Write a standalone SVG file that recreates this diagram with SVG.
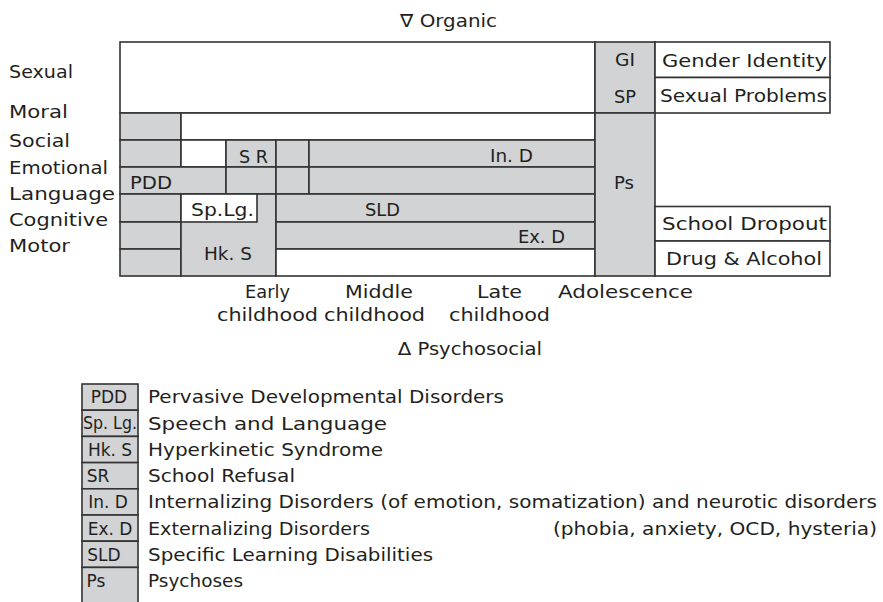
<svg xmlns="http://www.w3.org/2000/svg" width="883" height="602" viewBox="0 0 883 602">
  <style>
    text { font-family: "DejaVu Sans", "Liberation Sans", sans-serif; font-size: 18px; fill: #231f20; }
    .c { text-anchor: middle; }
    .k { font-size: 17px; }
    .g { fill: #d1d3d4; stroke: #333; stroke-width: 1.6; }
    .w { fill: #ffffff; stroke: #333; stroke-width: 1.6; }
  </style>
  <rect width="883" height="602" fill="#ffffff"/>

  <!-- axis captions -->
  <g id="captions">
    <text x="400" y="27" textLength="97" lengthAdjust="spacingAndGlyphs">∇ Organic</text>
    <text x="398" y="355" textLength="144" lengthAdjust="spacingAndGlyphs">∆ Psychosocial</text>
  </g>

  <!-- developmental domains (rows) -->
  <g id="domains">
    <text x="9" y="78" textLength="64" lengthAdjust="spacingAndGlyphs">Sexual</text>
    <text x="9" y="118" textLength="59" lengthAdjust="spacingAndGlyphs">Moral</text>
    <text x="9" y="147" textLength="61" lengthAdjust="spacingAndGlyphs">Social</text>
    <text x="9" y="174" textLength="99" lengthAdjust="spacingAndGlyphs">Emotional</text>
    <text x="9" y="200" textLength="106" lengthAdjust="spacingAndGlyphs">Language</text>
    <text x="9" y="226" textLength="99" lengthAdjust="spacingAndGlyphs">Cognitive</text>
    <text x="9" y="252" textLength="61" lengthAdjust="spacingAndGlyphs">Motor</text>
  </g>

  <!-- life stages (columns) -->
  <g id="stages">
    <text x="245" y="298" textLength="45" lengthAdjust="spacingAndGlyphs">Early</text>
    <text x="217" y="321" textLength="101" lengthAdjust="spacingAndGlyphs">childhood</text>
    <text x="345" y="298" textLength="68" lengthAdjust="spacingAndGlyphs">Middle</text>
    <text x="324" y="321" textLength="101" lengthAdjust="spacingAndGlyphs">childhood</text>
    <text x="477" y="298" textLength="45" lengthAdjust="spacingAndGlyphs">Late</text>
    <text x="449" y="321" textLength="101" lengthAdjust="spacingAndGlyphs">childhood</text>
    <text x="558" y="298" textLength="135" lengthAdjust="spacingAndGlyphs">Adolescence</text>
  </g>

  <!-- chart grid -->
  <g id="chart">
    <!-- sexual band -->
    <rect class="w" x="120" y="42" width="475" height="71"/>
    <!-- moral row -->
    <rect class="g" x="120" y="113" width="61" height="27"/>
    <rect class="w" x="181" y="113" width="414" height="27"/>
    <!-- social row -->
    <rect class="g" x="120" y="140" width="61" height="27"/>
    <rect class="w" x="181" y="140" width="45" height="27"/>
    <rect class="g" x="226" y="140" width="50" height="27"/>
    <rect class="g" x="276" y="140" width="33" height="27"/>
    <rect class="g" x="309" y="140" width="286" height="27"/>
    <!-- emotional row -->
    <rect class="g" x="120" y="167" width="106" height="27"/>
    <rect class="g" x="226" y="167" width="50" height="27"/>
    <rect class="g" x="276" y="167" width="33" height="27"/>
    <rect class="g" x="309" y="167" width="286" height="27"/>
    <!-- language / cognitive / motor -->
    <rect class="g" x="120" y="194" width="61" height="28"/>
    <rect class="g" x="120" y="222" width="61" height="27"/>
    <rect class="g" x="120" y="249" width="61" height="27"/>
    <rect class="g" x="181" y="194" width="95" height="82"/>
    <rect class="w" x="181" y="194" width="76" height="28"/>
    <rect class="g" x="276" y="194" width="319" height="28"/>
    <rect class="g" x="276" y="222" width="319" height="27"/>
    <rect class="w" x="276" y="249" width="319" height="27"/>
    <!-- psychoses column -->
    <rect class="g" x="595" y="42" width="60" height="71"/>
    <rect class="g" x="595" y="113" width="60" height="163"/>
    <!-- adolescent problems -->
    <rect class="w" x="655" y="42" width="175" height="35.5"/>
    <rect class="w" x="655" y="77.5" width="175" height="35.5"/>
    <rect class="w" x="655" y="206.5" width="175" height="34.5"/>
    <rect class="w" x="655" y="241" width="175" height="35"/>
  </g>

  <!-- cell labels -->
  <g id="cell-labels">
    <text x="130" y="189" textLength="42" lengthAdjust="spacingAndGlyphs">PDD</text>
    <text x="239" y="163" textLength="29" lengthAdjust="spacingAndGlyphs">S R</text>
    <text x="191" y="216" textLength="63" lengthAdjust="spacingAndGlyphs">Sp.Lg.</text>
    <text x="204" y="260" textLength="48" lengthAdjust="spacingAndGlyphs">Hk. S</text>
    <text x="490" y="162" textLength="43" lengthAdjust="spacingAndGlyphs">In. D</text>
    <text x="365" y="216" textLength="35" lengthAdjust="spacingAndGlyphs">SLD</text>
    <text x="518" y="243" textLength="47" lengthAdjust="spacingAndGlyphs">Ex. D</text>
    <text x="615" y="66" textLength="20" lengthAdjust="spacingAndGlyphs">GI</text>
    <text x="614" y="103" textLength="22" lengthAdjust="spacingAndGlyphs">SP</text>
    <text x="614" y="189" textLength="20" lengthAdjust="spacingAndGlyphs">Ps</text>
    <text x="662" y="67" textLength="165" lengthAdjust="spacingAndGlyphs">Gender Identity</text>
    <text x="660" y="102" textLength="167" lengthAdjust="spacingAndGlyphs">Sexual Problems</text>
    <text x="662" y="230" textLength="165" lengthAdjust="spacingAndGlyphs">School Dropout</text>
    <text x="666" y="265" textLength="156" lengthAdjust="spacingAndGlyphs">Drug &amp; Alcohol</text>
  </g>

  <!-- key -->
  <g id="legend">
    <rect class="g" x="82" y="384" width="56" height="26.2"/>
    <rect class="g" x="82" y="410.2" width="56" height="26.2"/>
    <rect class="g" x="82" y="436.4" width="56" height="26.2"/>
    <rect class="g" x="82" y="462.6" width="56" height="26.2"/>
    <rect class="g" x="82" y="488.8" width="56" height="26.2"/>
    <rect class="g" x="82" y="515" width="56" height="26.2"/>
    <rect class="g" x="82" y="541.2" width="56" height="26.2"/>
    <rect class="g" x="82" y="567.4" width="56" height="40"/>

    <text class="c k" x="109" y="403">PDD</text>
    <text class="c k" x="110" y="429" textLength="54" lengthAdjust="spacingAndGlyphs">Sp. Lg.</text>
    <text class="c k" x="110" y="456">Hk. S</text>
    <text class="c k" x="98" y="482">SR</text>
    <text class="c k" x="108" y="508">In. D</text>
    <text class="c k" x="110" y="535">Ex. D</text>
    <text class="c k" x="104" y="561">SLD</text>
    <text class="c k" x="96" y="587">Ps</text>

    <text x="148" y="403" textLength="356" lengthAdjust="spacingAndGlyphs">Pervasive Developmental Disorders</text>
    <text x="148" y="430" textLength="239" lengthAdjust="spacingAndGlyphs">Speech and Language</text>
    <text x="148" y="456" textLength="235" lengthAdjust="spacingAndGlyphs">Hyperkinetic Syndrome</text>
    <text x="148" y="482" textLength="147" lengthAdjust="spacingAndGlyphs">School Refusal</text>
    <text x="148" y="508" textLength="729" lengthAdjust="spacingAndGlyphs">Internalizing Disorders (of emotion, somatization) and neurotic disorders</text>
    <text x="148" y="535" textLength="222" lengthAdjust="spacingAndGlyphs">Externalizing Disorders</text>
    <text x="553" y="535" textLength="324" lengthAdjust="spacingAndGlyphs">(phobia, anxiety, OCD, hysteria)</text>
    <text x="148" y="561" textLength="285" lengthAdjust="spacingAndGlyphs">Specific Learning Disabilities</text>
    <text x="148" y="587" textLength="95" lengthAdjust="spacingAndGlyphs">Psychoses</text>
  </g>
</svg>
